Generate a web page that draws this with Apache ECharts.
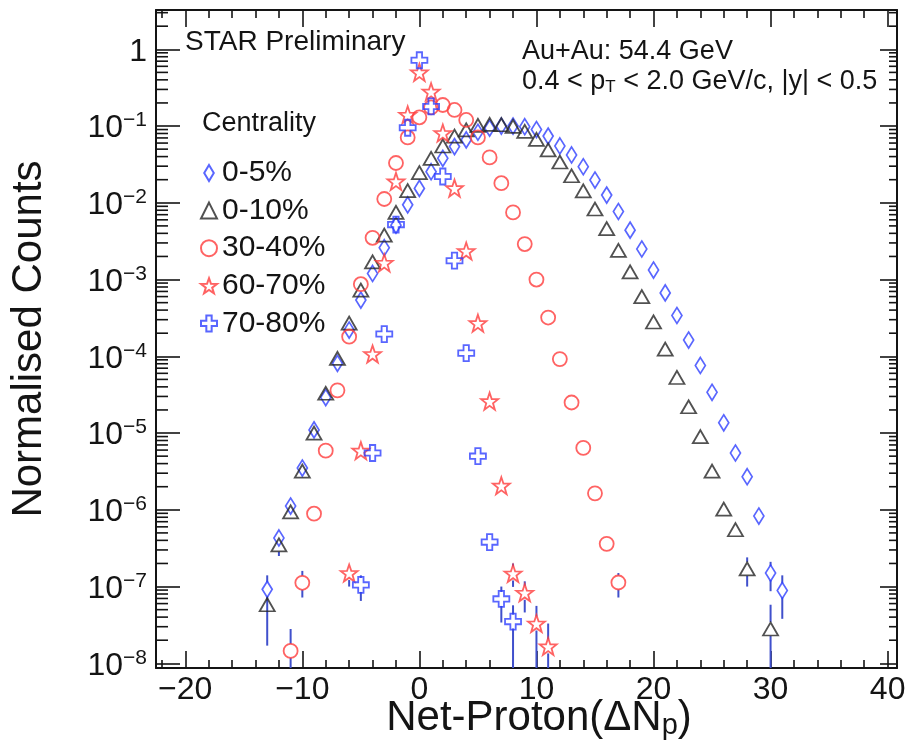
<!DOCTYPE html>
<html>
<head>
<meta charset="utf-8">
<script src="https://cdn.jsdelivr.net/npm/echarts@6/dist/echarts.min.js"></script>
<style>html,body{margin:0;background:#fff}#chart{width:910px;height:748px}</style>
</head>
<body>
<div id="chart"></div>
<script>
(() => {
  // --- data ---
  const names = ['0-5%', '0-10%', '30-40%', '60-70%', '70-80%'];

  const x05 = [-13, -12, -11, -10, -9, -8, -7, -6, -5, -4, -3, -2, -1, 0, 1, 2, 3, 4, 5, 6, 7, 8, 9, 10,
    11, 12, 13, 14, 15, 16, 17, 18, 19, 20, 21, 22, 23, 24, 25, 26, 27, 28, 29, 30, 31];
  const y05 = [9.2e-8, 4.3e-7, 1.12e-6, 3.5e-6, 1.1e-5, 2.9e-5, 8.1e-5, 2.2e-4, 5.4e-4, 1.2e-3, 2.6e-3, 5.1e-3,
    9.4e-3, 0.0154, 0.0254, 0.038, 0.054, 0.066, 0.083, 0.094, 0.1, 0.1, 0.098, 0.09,
    0.074, 0.055, 0.042, 0.0295, 0.0198, 0.0126, 7.7e-3, 4.4e-3, 2.5e-3, 1.33e-3, 6.7e-4, 3.4e-4, 1.63e-4,
    7.6e-5, 3.4e-5, 1.36e-5, 5.5e-6, 2.7e-6, 8.3e-7, 1.5e-7, 8.9e-8];

  const x010 = [-13, -12, -11, -10, -9, -8, -7, -6, -5, -4, -3, -2, -1, 0, 1, 2, 3, 4, 5, 6, 7, 8, 9, 10,
    11, 12, 13, 14, 15, 16, 17, 18, 19, 20, 21, 22, 23, 24, 25, 26, 27, 28, 30];
  const y010 = [5.8e-8, 3.5e-7, 9.4e-7, 3.2e-6, 1.0e-5, 3.3e-5, 9.4e-5, 2.7e-4, 7.3e-4, 1.7e-3, 3.8e-3, 7.5e-3,
    0.0144, 0.0247, 0.038, 0.055, 0.074, 0.089, 0.102, 0.105, 0.104, 0.099, 0.085, 0.067,
    0.049, 0.034, 0.0225, 0.0143, 0.0083, 0.0046, 2.4e-3, 1.26e-3, 6.0e-4, 2.8e-4, 1.24e-4, 5.3e-5, 2.2e-5,
    9.0e-6, 3.2e-6, 1.02e-6, 5.5e-7, 1.7e-7, 2.8e-8];

  const x3040 = [-11, -10, -9, -8, -7, -6, -5, -4, -3, -2, -1, 0, 1, 2, 3, 4, 5, 6, 7, 8, 9, 10, 11, 12, 13, 14, 15, 16, 17];
  const y3040 = [1.45e-8, 1.12e-7, 8.9e-7, 5.9e-6, 3.6e-5, 1.8e-4, 8.7e-4, 3.5e-3, 0.0112, 0.033, 0.071, 0.13,
    0.175, 0.188, 0.162, 0.12, 0.071, 0.039, 0.018, 0.0075, 0.0029, 1.0e-3, 3.2e-4, 9.2e-5, 2.5e-5, 6.4e-6,
    1.64e-6, 3.6e-7, 1.13e-7];

  const x6070 = [-6, -5, -4, -3, -2, -1, 0, 1, 2, 3, 4, 5, 6, 7, 8, 9, 10, 11];
  const y6070 = [1.5e-7, 5.9e-6, 1.07e-4, 1.65e-3, 0.019, 0.14, 0.5, 0.28, 0.081, 0.0155, 2.35e-3, 2.7e-4,
    2.6e-5, 2.06e-6, 1.48e-7, 8.3e-8, 3.3e-8, 1.66e-8];

  const x7080 = [-5, -4, -3, -2, -1, 0, 1, 2, 3, 4, 5, 6, 7, 8];
  const y7080 = [1.05e-7, 5.5e-6, 1.95e-4, 5.2e-3, 0.095, 0.72, 0.18, 0.022, 1.76e-3, 1.1e-4, 5.0e-6, 3.8e-7,
    6.9e-8, 3.5e-8];

  // error bars: bin, point value, low end, high end
  const errX = [-13, -12, -11, -10, -6, -5, 7, 8, 8, 9, 10, 11, 17, 28, 30, 30, 31];
  const errY = [9.2e-8, 3.5e-7, 1.45e-8, 1.12e-7, 1.5e-7, 1.05e-7, 6.9e-8, 3.5e-8, 1.48e-7, 8.3e-8, 3.3e-8,
    1.66e-8, 1.13e-7, 1.7e-7, 2.8e-8, 1.5e-7, 8.9e-8];
  const errLo = [1.7e-8, 2.5e-7, 5e-9, 7.2e-8, 1.0e-7, 6.5e-8, 3.4e-8, 5e-9, 9.9e-8, 4.6e-8, 5e-9, 5e-9,
    7.2e-8, 1.0e-7, 5e-9, 8.7e-8, 3.8e-8];
  const errHi = [1.4e-7, 4.0e-7, 2.8e-8, 1.6e-7, 1.8e-7, 1.4e-7, 1.0e-7, 5.7e-8, 2.0e-7, 1.17e-7, 5.6e-8,
    3.3e-8, 1.5e-7, 2.4e-7, 5.8e-8, 2.1e-7, 1.4e-7];

  const xMajor = [-20, -10, 0, 10, 20, 30, 40];
  const yDecades = [1e-8, 1e-7, 1e-6, 1e-5, 1e-4, 1e-3, 1e-2, 1e-1, 1];
  const minorSteps = [2, 3, 4, 5, 6, 7, 8, 9];

  // --- look ---
  const font = '"Liberation Sans", Arial, Helvetica, sans-serif';
  const ink = '#141414';
  const blue = '#3040ff';
  const red = '#ff3c3c';
  const grey = '#262626';
  const errColor = '#4050cc';
  const xMin = -22.5, xMax = 40.8;
  const yMin = 0.869e-8, yMax = 3.25;

  const xMinor = [];
  for (let v = -22; v <= 40; v += 2) if (v % 10 !== 0) xMinor.push(v);
  // log minor ticks 2..9 within each decade
  const yMinor = [];
  yDecades.forEach(d => {
    minorSteps.forEach(k => {
      const v = k * d;
      if (v < yMax) yMinor.push(v);
    });
  });

  const diamond = 'path://M0,-1L0.6,0L0,1L-0.6,0Z';
  const star = 'path://M0,-1L0.235,-0.324L0.951,-0.309L0.38,0.124L0.588,0.809L0,0.4L-0.588,0.809L-0.38,0.124L-0.951,-0.309L-0.235,-0.324Z';
  const cross = 'path://M-1,-3H1V-1H3V1H1V3H-1V1H-3V-1H-1Z';

  const pairs = (xs, ys) => xs.map((x, i) => [x, ys[i]]);

  const lineStyle = { color: ink, width: 2 };

  function xLabel(v) {
    return v < 0 ? '\u2212' + (-v) : String(v);
  }
  function yLabel(v) {
    const d = yDecades.find(t => Math.abs(Math.log10(v) - Math.log10(t)) < 1e-6);
    if (d === undefined) return '';
    const e = Math.round(Math.log10(d));
    if (e === 0) return '{b|1}';
    if (e === 1) return '{b|10}';
    return '{b|10}{s|' + (e < 0 ? '\u2212' + (-e) : e) + '}';
  }

  function markers(name, xs, ys, symbol, size, color) {
    return {
      name: name,
      type: 'scatter',
      symbol: symbol,
      symbolSize: size,
      data: pairs(xs, ys),
      itemStyle: { color: 'rgba(255,255,255,0)', borderColor: color, borderWidth: 1.8 },
      emphasis: { disabled: true },
      silent: true,
      animation: false,
      z: 3
    };
  }

  const xAxes = [
    {
      position: 'bottom',
      axisLine: { show: true, onZero: false, lineStyle: lineStyle },
      axisTick: { show: true, inside: true, length: 17, customValues: xMajor, lineStyle: { color: ink, width: 1.6 } },
      axisLabel: {
        show: true, customValues: xMajor, formatter: xLabel, margin: 6,
        fontSize: 32, color: ink, fontFamily: font
      },
      name: '{m|Net-Proton(\u0394N}{s|p}{m|)}',
      nameLocation: 'middle',
      nameGap: 37,
      nameMoveOverlap: false,
      nameTextStyle: {
        color: ink, fontFamily: font,
        rich: {
          m: { fontSize: 42, lineHeight: 42, padding: [0, 0, 15, 0], fontFamily: font, color: ink },
          s: { fontSize: 29, lineHeight: 29, fontFamily: font, color: ink }
        },
        padding: [0, 0, 0, 25]
      }
    },
    { position: 'bottom', axisTick: { show: true, inside: true, length: 8, customValues: xMinor, lineStyle: { color: ink, width: 1.6 } } },
    {
      position: 'top',
      axisLine: { show: true, onZero: false, lineStyle: lineStyle },
      axisTick: { show: true, inside: true, length: 17, customValues: xMajor, lineStyle: { color: ink, width: 1.6 } }
    },
    { position: 'top', axisTick: { show: true, inside: true, length: 8, customValues: xMinor, lineStyle: { color: ink, width: 1.6 } } }
  ].map(a => Object.assign({
    type: 'value', min: xMin, max: xMax, gridIndex: 0,
    splitLine: { show: false },
    axisLine: { show: false, onZero: false },
    axisLabel: { show: false }
  }, a));

  const yAxes = [
    {
      position: 'left',
      axisLine: { show: true, onZero: false, lineStyle: lineStyle },
      axisTick: { show: true, inside: true, length: 24, lineStyle: { color: ink, width: 1.6 } },
      axisLabel: {
        show: true, formatter: yLabel, margin: 9, color: ink, fontFamily: font,
        rich: {
          b: { fontSize: 32, lineHeight: 32, padding: [5, 0, 0, 0], fontFamily: font, color: ink },
          s: { fontSize: 21, lineHeight: 21, verticalAlign: 'top', fontFamily: font, color: ink }
        }
      },
      name: 'Normalised Counts',
      nameLocation: 'middle',
      nameGap: 106,
      nameMoveOverlap: false,
      nameTextStyle: { fontSize: 42, color: ink, fontFamily: font }
    },
    {
      position: 'right',
      axisLine: { show: true, onZero: false, lineStyle: lineStyle },
      axisTick: { show: true, inside: true, length: 17, lineStyle: { color: ink, width: 1.6 } }
    }
  ].map(a => Object.assign({
    type: 'log', logBase: 10, min: yMin, max: yMax, splitNumber: 10, gridIndex: 0,
    splitLine: { show: false },
    axisLine: { show: false, onZero: false },
    axisLabel: { show: false }
  }, a));

  const errorBars = {
    type: 'custom',
    name: 'errors',
    clip: true,
    silent: true,
    animation: false,
    z: 2,
    data: errX.map((x, i) => [x, errY[i], errLo[i], errHi[i]]),
    encode: { x: 0, y: 1 },
    renderItem: function (params, api) {
      const pc = api.coord([api.value(0), api.value(1)]);
      const pl = api.coord([api.value(0), api.value(2)]);
      const ph = api.coord([api.value(0), api.value(3)]);
      const gap = 7;
      const st = { stroke: errColor, lineWidth: 2 };
      const kids = [];
      if (pl[1] > pc[1] + gap) kids.push({ type: 'line', shape: { x1: pc[0], y1: pc[1] + gap, x2: pc[0], y2: pl[1] }, style: st });
      if (ph[1] < pc[1] - gap) kids.push({ type: 'line', shape: { x1: pc[0], y1: pc[1] - gap, x2: pc[0], y2: ph[1] }, style: st });
      return { type: 'group', children: kids };
    }
  };

  const texts = [
    { type: 'text', left: 185, top: 28, silent: true,
      style: { text: 'STAR Preliminary', font: '28px ' + font, fill: ink } },
    { type: 'text', left: 202, top: 110, silent: true,
      style: { text: 'Centrality', font: '27px ' + font, fill: ink } },
    { type: 'text', left: 522, top: 38, silent: true,
      style: { text: 'Au+Au: 54.4 GeV', font: '27px ' + font, fill: ink } },
    { type: 'text', left: 522, top: 68, silent: true,
      style: {
        text: '{m|0.4 < p}{t|T}{m| < 2.0 GeV/c, |y| < 0.5}',
        fill: ink,
        rich: {
          m: { fontSize: 27, lineHeight: 27, padding: [0, 0, 12, 0], fontFamily: font, fill: ink },
          t: { fontSize: 17, lineHeight: 17, fontFamily: font, fill: ink }
        }
      } }
  ];

  const option = {
    backgroundColor: '#fff',
    animation: false,
    grid: { left: 156, right: 13, top: 10, bottom: 80, outerBoundsMode: 'none', containLabel: false },
    xAxis: xAxes,
    yAxis: yAxes,
    legend: {
      data: names,
      orient: 'vertical',
      left: 200,
      top: 158,
      padding: 0,
      itemWidth: 16,
      itemHeight: 16,
      itemGap: 7.6,
      selectedMode: false,
      textStyle: { fontSize: 30, lineHeight: 30, color: ink, fontFamily: font }
    },
    graphic: texts,
    series: [
      errorBars,
      markers(names[0], x05, y05, diamond, [10, 16], blue),
      markers(names[1], x010, y010, 'triangle', [15, 13], grey),
      markers(names[2], x3040, y3040, 'circle', 14, red),
      markers(names[3], x6070, y6070, star, 17, red),
      markers(names[4], x7080, y7080, cross, 16, blue)
    ]
  };

  const chart = echarts.init(document.getElementById('chart'), null, { renderer: 'canvas' });
  chart.setOption(option);

  // minor log ticks on both frame sides, positioned through the chart's own scales
  const xl = chart.convertToPixel({ xAxisIndex: 0 }, xMin);
  const xr = chart.convertToPixel({ xAxisIndex: 0 }, xMax);
  const ticks = [];
  yMinor.forEach(v => {
    const y = chart.convertToPixel({ yAxisIndex: 0 }, v);
    if (!isFinite(y)) return;
    ticks.push({ type: 'line', silent: true, z: 100,
      shape: { x1: xl, y1: y, x2: xl + 12, y2: y }, style: { stroke: ink, lineWidth: 1.6 } });
    ticks.push({ type: 'line', silent: true, z: 100,
      shape: { x1: xr, y1: y, x2: xr - 8, y2: y }, style: { stroke: ink, lineWidth: 1.6 } });
  });
  chart.setOption({ graphic: texts.concat(ticks) });
})();
</script>
</body>
</html>
